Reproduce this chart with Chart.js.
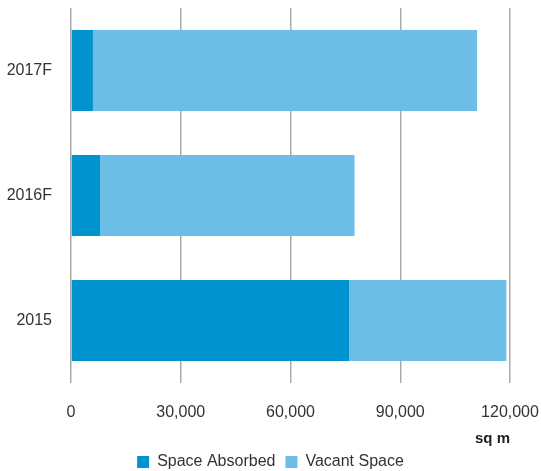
<!DOCTYPE html>
<html>
<head>
<meta charset="utf-8">
<script src="https://cdn.jsdelivr.net/npm/chart.js@4/dist/chart.umd.min.js"></script>
<style>
  html, body { margin: 0; padding: 0; background: #fff; }
  #wrap { width: 541px; height: 471px; }
</style>
</head>
<body>
<div id="wrap"><canvas id="chart"></canvas></div>
<script>
// years, top to bottom
const years = ['2017F', '2016F', '2015'];
// sq m
const spaceAbsorbed = [6000, 8000, 76000];
const vacantSpace = [105000, 69500, 43000];
const xTicks = [0, 30000, 60000, 90000, 120000];

const sans = "'Liberation Sans', Arial, sans-serif";

const ctx = document.getElementById('chart').getContext('2d');
new Chart(ctx, {
  type: 'bar',
  data: {
    labels: years,
    datasets: [
      {
        label: 'Space Absorbed',
        data: spaceAbsorbed,
        backgroundColor: '#0093d0',
        borderWidth: 0,
      },
      {
        label: 'Vacant Space',
        data: vacantSpace,
        backgroundColor: '#6cbee6',
        borderWidth: 0,
      },
    ],
  },
  options: {
    indexAxis: 'y',
    responsive: true,
    maintainAspectRatio: false,
    animation: false,
    categoryPercentage: 1,
    barPercentage: 0.647,
    // legend sits a little past the bottom edge
    layout: { padding: { top: 8, right: 0, left: 0, bottom: -9 } },
    plugins: {
      tooltip: { enabled: false },
      legend: {
        position: 'bottom',
        labels: {
          boxWidth: 12,
          boxHeight: 12,
          padding: 10,
          color: '#333',
          font: { family: sans, size: 16 },
        },
      },
    },
    scales: {
      x: {
        stacked: true,
        min: 0,
        max: 120000,
        afterBuildTicks: (scale) => {
          scale.ticks = xTicks.map((v) => ({ value: v }));
        },
        afterFit: (scale) => {
          scale.height = 61;
          scale.paddingLeft = 0;
          scale.paddingRight = 31;
        },
        grid: { color: '#aaa', lineWidth: 1.5, drawTicks: false },
        border: { display: false },
        ticks: {
          padding: 20,
          color: '#333',
          font: { family: sans, size: 16 },
          callback: (v) => v.toLocaleString('en-US'),
        },
        title: {
          display: true,
          text: 'sq m',
          align: 'end',
          color: '#222',
          font: { family: sans, size: 15, weight: 'bold' },
          padding: { top: 6, bottom: -4 },
        },
      },
      y: {
        stacked: true,
        afterFit: (scale) => {
          scale.width = 71;
          scale.paddingTop = 0;
          scale.paddingBottom = 0;
        },
        grid: { display: false, drawTicks: false },
        border: { display: false },
        ticks: {
          padding: 19,
          color: '#333',
          font: { family: sans, size: 16 },
        },
      },
    },
  },
});
</script>
</body>
</html>
